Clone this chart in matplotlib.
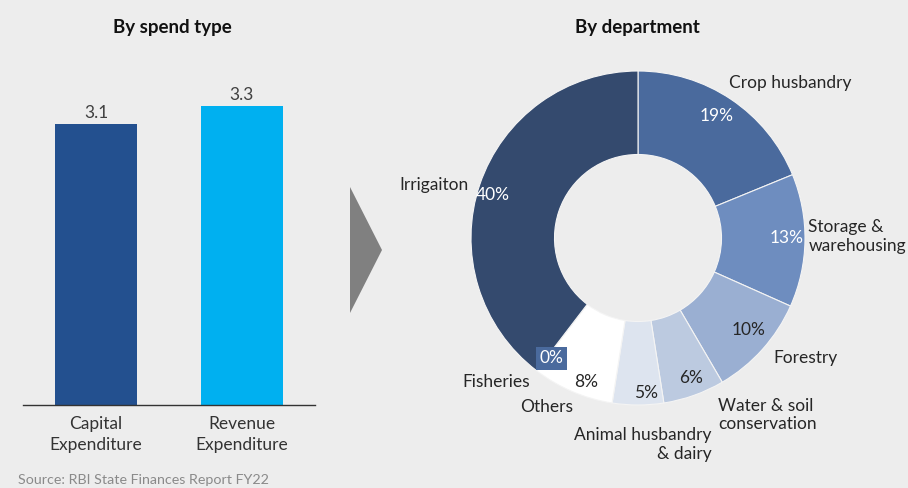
import matplotlib.pyplot as plt
from matplotlib.patches import Polygon

plt.rcParams['font.family'] = ['Lato', 'DejaVu Sans']

BG = '#ededed'

# left panel: spend type (Rs lakh crore)
spend_types = ['Capital\nExpenditure', 'Revenue\nExpenditure']
spend_values = [3.1, 3.3]
spend_colors = ['#23508f', '#00b0f0']

# right panel: department share (%), clockwise from 12 o'clock
departments = ['Crop husbandry', 'Storage &\nwarehousing', 'Forestry',
               'Water & soil\nconservation', 'Animal husbandry\n& dairy',
               'Others', 'Fisheries', 'Irrigaiton']
dept_share = [19, 13, 10, 6, 5, 8, 0, 40]
dept_colors = ['#4a6a9d', '#6e8dbf', '#9aafd2', '#bccae0', '#dde4ef',
               '#ffffff', '#4a6a9d', '#344a6e']

# label placement, donut radius units
pct_pos = [(0.47, 0.73), (0.89, 0.0), (0.66, -0.55), (0.32, -0.84),
           (0.05, -0.93), (-0.31, -0.86), (-0.52, -0.72), (-0.87, 0.26)]
pct_dark = [False, False, True, True, True, True, False, False]
name_pos = [(0.545, 0.93, 'left'), (1.02, 0.01, 'left'), (0.81, -0.72, 'left'),
            (0.48, -1.06, 'left'), (0.44, -1.235, 'right'),
            (-0.545, -1.01, 'center'), (-0.85, -0.86, 'center'),
            (-1.22, 0.32, 'center')]

W, H = 908, 488
fig = plt.figure(figsize=(W / 100, H / 100), dpi=100, facecolor=BG)


def px_rect(x0, y0, x1, y1):
    return [x0 / W, 1 - y1 / H, (x1 - x0) / W, (y1 - y0) / H]


# bar chart
ax = fig.add_axes(px_rect(23, 50, 315, 405))
ax.set_facecolor(BG)
bars = ax.bar(range(len(spend_values)), spend_values, width=0.56, color=spend_colors)
for b, v in zip(bars, spend_values):
    ax.text(b.get_x() + b.get_width() / 2, v + 0.04, f'{v}', ha='center', va='bottom',
            fontsize=12.5, color='#404040')
ax.set_xlim(-0.5, 1.5)
ax.set_ylim(0, 3.92)
ax.set_xticks(range(len(spend_types)))
ax.set_xticklabels(spend_types, fontsize=12.5, color='#333333', linespacing=1.4)
ax.tick_params(axis='x', length=0, pad=8)
ax.set_yticks([])
for s in ['top', 'right', 'left']:
    ax.spines[s].set_visible(False)
ax.spines['bottom'].set_color('#333333')
ax.spines['bottom'].set_linewidth(1.0)

fig.text(172 / W, 1 - 28 / H, 'By spend type', ha='center', va='center',
         fontsize=13.5, fontweight='bold', color='#111111')
fig.text(18 / W, 1 - 480 / H, 'Source: RBI State Finances Report FY22', ha='left',
         va='center', fontsize=10.3, color='#8a8a8a')

# arrow between panels
fig.patches.append(Polygon([(350 / W, 1 - 187 / H), (382 / W, 1 - 250 / H), (350 / W, 1 - 313 / H)],
                           closed=True, transform=fig.transFigure, facecolor='#808080',
                           edgecolor='none'))

# donut
ax2 = fig.add_axes(px_rect(471, 71, 805, 405))
ax2.set_facecolor(BG)
ax2.pie(dept_share, colors=dept_colors, startangle=90, counterclock=False, radius=1,
        wedgeprops=dict(width=0.5, edgecolor='#f4f4f4', linewidth=0.8))
ax2.set_xlim(-1, 1)
ax2.set_ylim(-1, 1)
ax2.set_aspect('equal')
ax2.axis('off')

for i, v in enumerate(dept_share):
    x, y = pct_pos[i]
    kw = {}
    if departments[i] == 'Fisheries':
        kw['bbox'] = dict(boxstyle='square,pad=0.2', facecolor='#4a6a9d', edgecolor='none')
    ax2.text(x, y, f'{v}%', ha='center', va='center', fontsize=12.5,
             color='#262626' if pct_dark[i] else 'white', **kw)
    nx, ny, ha = name_pos[i]
    ax2.text(nx, ny, departments[i], ha=ha, va='center', fontsize=12.5, color='#262626',
             multialignment=ha if ha != 'center' else 'center', linespacing=1.2)

fig.text(637 / W, 1 - 28 / H, 'By department', ha='center', va='center',
         fontsize=13.5, fontweight='bold', color='#111111')

fig.savefig('out.png', dpi=100, facecolor=BG)
